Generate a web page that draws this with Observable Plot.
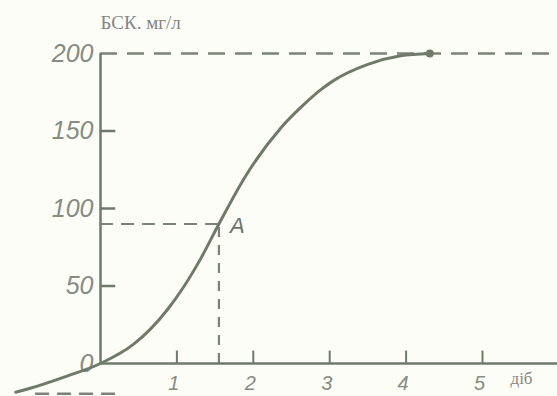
<!DOCTYPE html>
<html>
<head>
<meta charset="utf-8">
<script src="https://cdn.jsdelivr.net/npm/d3@7"></script>
<script src="https://cdn.jsdelivr.net/npm/@observablehq/plot@0.6"></script>
<style>
  html, body { margin: 0; padding: 0; background: #fdfdf7; }
  #chart svg { display: block; background: #fdfdf7; }
</style>
</head>
<body>
<div id="chart"></div>
<script>
// Data
const days = [-1.11, -0.92, -0.43, 0.0, 0.43, 0.65, 0.88, 1.09, 1.31, 1.55, 1.90, 2.36, 2.66, 2.88, 3.05, 3.50, 3.93, 4.31];
const bod  = [-18.5, -16, -8, 0, 12.3, 22, 35, 49.5, 67.5, 90, 121, 152, 167, 176.5, 182.5, 193, 198.5, 200];
const xTicks = [1, 2, 3, 4, 5, 6];
const xTickLabels = ["1", "2", "3", "4", "5"];
const yTicks = [50, 100, 150];
const yTickLabels = ["0", "50", "100", "150", "200"];
const yTickValues = [0, 50, 100, 150, 200];
const pointA = {x: 1.55, y: 90, label: "A"};
const ultimate = {x: 4.31, y: 200};
const lagLevel = -19.5;
const lagStart = -0.85;
const lagEnd = 0.23;
const yLabel = "БСК. мг/л";
const xLabel = "діб";

const curveData = days.map((d, i) => ({x: d, y: bod[i]}));
const ink = "#6f7a6b";
const dashInk = "#7b8277";
const labelInk = "#868c82";

const chart = Plot.plot({
  width: 557,
  height: 396,
  margin: 0,
  style: {background: "#fdfdf7"},
  x: {domain: [-100 / 76.4, 457 / 76.4], axis: null},
  y: {domain: [-33 / 1.55, 363 / 1.55], axis: null},
  marks: [
    // dashed guides
    Plot.ruleY([200], {x1: 0, x2: 6.5, stroke: dashInk, strokeWidth: 2.5, strokeDasharray: "17,10"}),
    Plot.ruleY([pointA], {y: "y", x1: 0, x2: "x", stroke: dashInk, strokeWidth: 2.2, strokeDasharray: "13,8"}),
    Plot.ruleX([pointA], {x: "x", y1: 0, y2: "y", stroke: dashInk, strokeWidth: 2.2, strokeDasharray: "10,8"}),
    Plot.ruleY([lagLevel], {x1: lagStart, x2: lagEnd, stroke: dashInk, strokeWidth: 2.5, strokeDasharray: "14,8"}),
    // axes
    Plot.ruleX([0], {y1: 0, y2: 200, stroke: ink, strokeWidth: 2.5}),
    Plot.ruleY([0], {x1: 0, x2: 6.5, stroke: ink, strokeWidth: 2.5}),
    Plot.ruleY(yTicks, {x1: 0, x2: 0.2, stroke: ink, strokeWidth: 2.5}),
    Plot.ruleX(xTicks, {y1: 0, y2: 8, stroke: ink, strokeWidth: 2}),
    // tick labels
    Plot.text(yTickValues, {
      x: 0, y: d => d, text: (d, i) => yTickLabels[i],
      textAnchor: "end", dx: -7, dy: 0,
      fontSize: 25, fontStyle: "italic", fontFamily: "Liberation Sans, Arial, sans-serif",
      fill: labelInk
    }),
    Plot.text(xTickLabels, {
      x: d => +d, y: 0, text: d => d,
      dy: 20, dx: -3,
      fontSize: 20, fontStyle: "italic", fontFamily: "Liberation Sans, Arial, sans-serif",
      fill: labelInk
    }),
    // curve
    Plot.line(curveData, {x: "x", y: "y", curve: "monotone-x", stroke: ink, strokeWidth: 3}),
    Plot.dot([ultimate], {x: "x", y: "y", r: 4, fill: ink, stroke: "none"}),
    Plot.text([pointA], {
      x: "x", y: "y", text: "label", textAnchor: "start", dx: 11, dy: 2,
      fontSize: 22, fontStyle: "italic", fontFamily: "Liberation Sans, Arial, sans-serif",
      fill: "#6c7468"
    }),
    // axis titles
    Plot.text([yLabel], {
      x: 0, frameAnchor: "top", textAnchor: "start", lineAnchor: "middle", dy: 22,
      fontSize: 19, fontFamily: "Liberation Serif, Times New Roman, serif", fill: "#858585"
    }),
    Plot.text([xLabel], {
      x: 5, y: 0, textAnchor: "start", dx: 28, dy: 15,
      fontSize: 17, fontFamily: "Liberation Serif, Times New Roman, serif", fill: "#858585"
    })
  ]
});
document.getElementById("chart").appendChild(chart);
</script>
</body>
</html>
